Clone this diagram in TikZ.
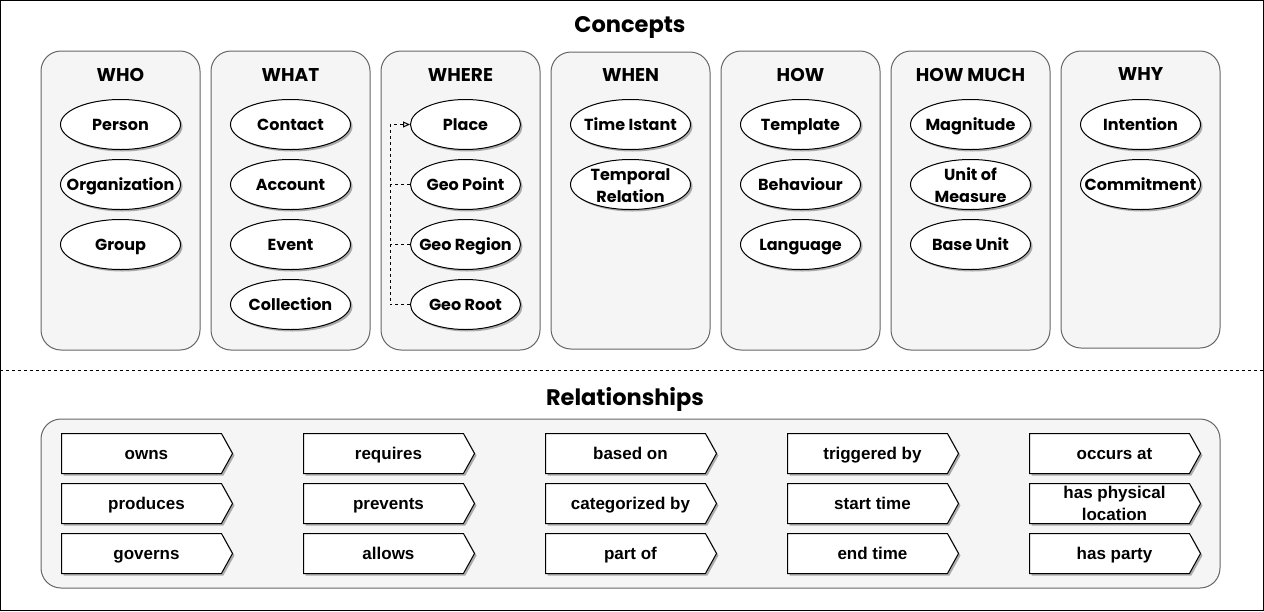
\documentclass[tikz,border=0pt]{standalone}
\usepackage{fontspec}
\setmainfont{Liberation Sans}
\newfontfamily\headfont{Poppins}
\usetikzlibrary{shapes.geometric,shapes.symbols,shadows,arrows.meta}
\definecolor{panelgray}{HTML}{F5F5F5}
\definecolor{panelline}{HTML}{666666}
\tikzstyle{panel}=[draw=panelline, fill=panelgray, rounded corners=20pt, minimum width=159pt, minimum height=299pt, inner sep=0pt]
\tikzstyle{heading}=[anchor=base, font=\headfont\bfseries\fontsize{22.5}{26}\selectfont]
\tikzstyle{coltitle}=[anchor=base, font=\headfont\bfseries\fontsize{18.5}{22}\selectfont]
\tikzstyle{concept}=[ellipse, draw, fill=white, minimum width=120pt, minimum height=50pt, inner xsep=-14pt, inner ysep=-3pt, text height=15pt, text depth=3pt, align=center, font=\headfont\bfseries\fontsize{16}{22}\selectfont, drop shadow={shadow xshift=2pt, shadow yshift=-2pt, opacity=0.3, fill=black}]
\tikzstyle{twolines}=[text height=38pt, text depth=3pt]
\tikzstyle{relation}=[signal, signal to=east, signal pointer angle=122, draw, fill=white, anchor=west, minimum width=171pt, minimum height=40pt, inner ysep=0pt, text height=14pt, text depth=3pt, align=center, font=\bfseries\fontsize{17}{22}\selectfont, execute at begin node={\hspace*{10pt}}, drop shadow={shadow xshift=2pt, shadow yshift=-2pt, opacity=0.3, fill=black}]

\begin{document}
\begin{tikzpicture}[x=1pt, y=-1pt, line width=1pt]
\useasboundingbox (0,0) rectangle (1264,611);
% Frame
    \draw (0.5,0.5) rectangle (1263.5,610.5);
    \draw[dash pattern=on 3pt off 3pt] (0,370.5) -- (1264,370.5);
    \node[heading] (concepts) at (630,32.5) {Concepts};
    \node[heading] (relationships) at (625,405) {Relationships};
% Panels
    \node[panel] (who) at (120.5,200.5) {};
    \node[panel] (what) at (290.5,200.5) {};
    \node[panel] (where) at (460.5,200.5) {};
    \node[panel, minimum height=297pt] (when) at (630.5,200.5) {};
    \node[panel] (how) at (800.5,200.5) {};
    \node[panel] (howmuch) at (970.5,200.5) {};
    \node[panel, minimum height=297pt] (why) at (1140.5,199.5) {};
    \node[panel, minimum width=1179pt, minimum height=169pt] (relbox) at (630.5,503.5) {};
% Panel titles
    \node[coltitle] (whot) at (120.5,81) {WHO};
    \node[coltitle] (whatt) at (290.5,81) {WHAT};
    \node[coltitle] (wheret) at (460.5,81) {WHERE};
    \node[coltitle] (whent) at (630.5,81) {WHEN};
    \node[coltitle] (howt) at (800.5,81) {HOW};
    \node[coltitle] (howmucht) at (970.5,81) {HOW MUCH};
    \node[coltitle] (whyt) at (1140.5,80) {WHY};
% WHO
    \node[concept] (person) at (120.5,124.5) {Person};
    \node[concept] (organization) at (120.5,184.5) {Organization};
    \node[concept] (group) at (120.5,244.5) {Group};
% WHAT
    \node[concept] (contact) at (290.5,124.5) {Contact};
    \node[concept] (account) at (290.5,184.5) {Account};
    \node[concept] (event) at (290.5,244.5) {Event};
    \node[concept] (collection) at (290.5,304.5) {Collection};
% WHERE
    \node[concept, minimum width=110pt] (place) at (465.5,124.5) {Place};
    \node[concept, minimum width=110pt] (geopoint) at (465.5,184.5) {Geo Point};
    \node[concept, minimum width=110pt] (georegion) at (465.5,244.5) {Geo Region};
    \node[concept, minimum width=110pt] (georoot) at (465.5,304.5) {Geo Root};
% WHEN
    \node[concept] (timeistant) at (630.5,124.5) {Time Istant};
    \node[concept, twolines] (temporal) at (630.5,184.5) {Temporal\\Relation};
% HOW
    \node[concept] (template) at (800.5,124.5) {Template};
    \node[concept] (behaviour) at (800.5,184.5) {Behaviour};
    \node[concept] (language) at (800.5,244.5) {Language};
% HOW MUCH
    \node[concept] (magnitude) at (970.5,124.5) {Magnitude};
    \node[concept, twolines] (unitofmeasure) at (970.5,184.5) {Unit of\\Measure};
    \node[concept] (baseunit) at (970.5,244.5) {Base Unit};
% WHY
    \node[concept] (intention) at (1140.5,124.5) {Intention};
    \node[concept] (commitment) at (1140.5,184.5) {Commitment};
% Places hierarchy
    \draw[dash pattern=on 3pt off 3pt, -{Triangle[open, length=7pt, width=6pt]}] (georoot.west) -- ++(-20,0) |- (place.west);
    \draw[dash pattern=on 3pt off 3pt] (geopoint.west) -- ++(-20,0);
    \draw[dash pattern=on 3pt off 3pt] (georegion.west) -- ++(-20,0);
% Relationships
    \node[relation] (owns) at (61,453.5) {owns};
    \node[relation] (produces) at (61,503.5) {produces};
    \node[relation] (governs) at (61,553.5) {governs};
    \node[relation] (requires) at (303,453.5) {requires};
    \node[relation] (prevents) at (303,503.5) {prevents};
    \node[relation] (allows) at (303,553.5) {allows};
    \node[relation] (basedon) at (545,453.5) {based on};
    \node[relation] (categorizedby) at (545,503.5) {categorized by};
    \node[relation] (partof) at (545,553.5) {part of};
    \node[relation] (triggeredby) at (787,453.5) {triggered by};
    \node[relation] (starttime) at (787,503.5) {start time};
    \node[relation] (endtime) at (787,553.5) {end time};
    \node[relation] (occursat) at (1029,453.5) {occurs at};
    \node[relation, text height=36pt, text depth=3pt] (hasphysical) at (1029,503.5) {has physical\\location};
    \node[relation] (hasparty) at (1029,553.5) {has party};
\end{tikzpicture}
\end{document}
